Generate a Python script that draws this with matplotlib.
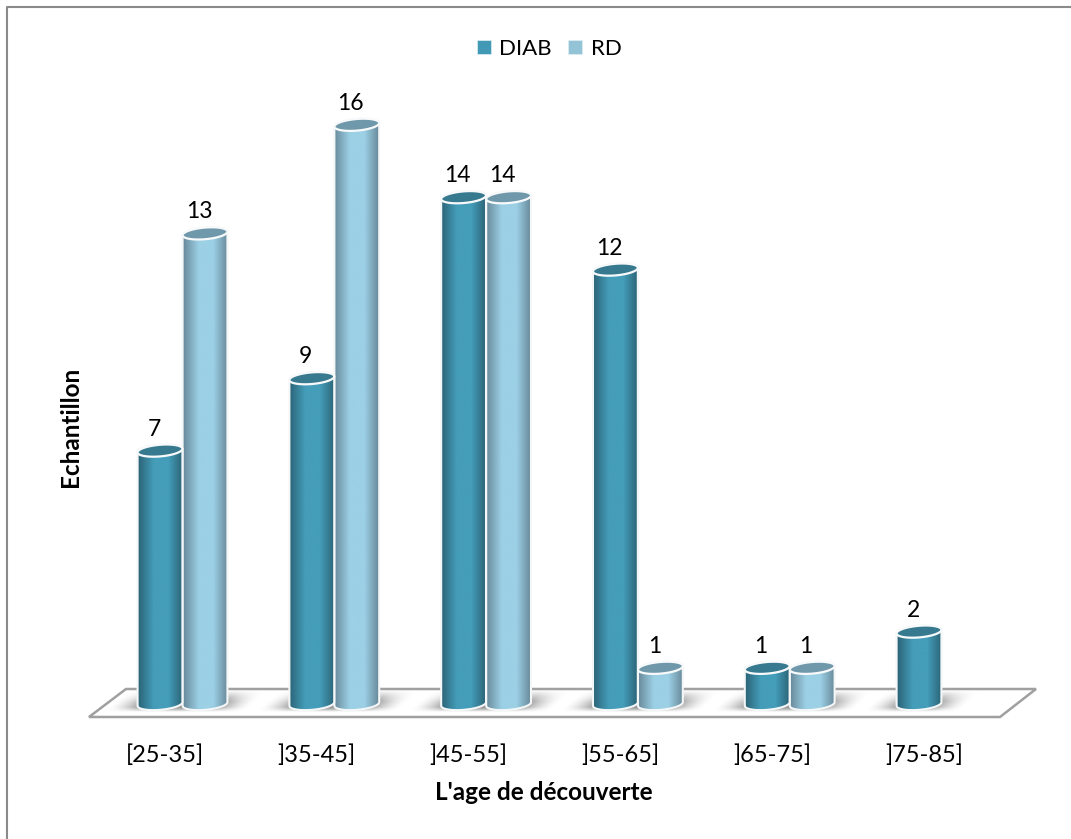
import numpy as np
import matplotlib
matplotlib.use("Agg")
import matplotlib.pyplot as plt
from matplotlib.colors import LinearSegmentedColormap
from matplotlib.patches import PathPatch, Polygon
from matplotlib.path import Path
from matplotlib.lines import Line2D

plt.rcParams["font.family"] = ["Lato", "DejaVu Sans"]

categories = ["[25-35]", "]35-45]", "]45-55]", "]55-65]", "]65-75]", "]75-85]"]
diab = [7, 9, 14, 12, 1, 2]
rd = [13, 16, 14, 1, 1, 0]
series_names = ["DIAB", "RD"]

W, H = 1071, 839
GROUP_PX = 151.8      # pixels between two age classes
UNIT_PX = 36.2        # pixels per patient
X0_PX, Y0_PX = 182.5, 704.0   # pixel position of class 0, count 0
AX_L, AX_R, AX_T, AX_B = 89, 1036, 70, 717

fig = plt.figure(figsize=(W / 100, H / 100), dpi=100, facecolor="white")
ax = fig.add_axes([AX_L / W, 1 - AX_B / H, (AX_R - AX_L) / W, (AX_B - AX_T) / H])
xlim = ((AX_L - X0_PX) / GROUP_PX, (AX_R - X0_PX) / GROUP_PX)
ylim = ((Y0_PX - AX_B) / UNIT_PX, (Y0_PX - AX_T) / UNIT_PX)

STYLES = {
    "DIAB": dict(edge="#2b6376", mid="#449db9", top="#37798f", legend="#4299b5"),
    "RD": dict(edge="#68899a", mid="#9cd0e5", top="#6f98aa", legend="#93c3d7"),
}
RX, RY = 22.5, 5.8     # ellipse half axes in pixels
TILT = np.deg2rad(5)


def ellipse(xc, yc, t):
    """Points of a tilted ellipse, centre in data units, radii in pixels."""
    dx = RX * np.cos(t) * np.cos(TILT) - RY * np.sin(t) * np.sin(TILT)
    dy = RX * np.cos(t) * np.sin(TILT) + RY * np.sin(t) * np.cos(TILT)
    return np.column_stack([xc + dx / GROUP_PX, yc + dy / UNIT_PX])


def floor_shadow(xc):
    """Soft skewed shadow that a cylinder casts on the floor."""
    px = np.arange(-64, 65)
    h = np.linspace(-8, 14, 45)      # height above the base centre, in pixels
    gx, gh = np.meshgrid(px, h)
    skew = gx - gh * 1.1
    across = np.clip((48 - np.abs(skew)) / 30, 0, 1)
    along = np.clip((14 - gh) / 12, 0, 1) * np.clip((gh + 8) / 5, 0, 1)
    img = np.zeros(across.shape + (4,))
    img[..., :3] = 0.48
    img[..., 3] = 0.72 * across ** 1.5 * along
    ext = [xc + px[0] / GROUP_PX, xc + px[-1] / GROUP_PX, h[0] / UNIT_PX, h[-1] / UNIT_PX]
    ax.imshow(img, extent=ext, origin="lower", aspect="auto", zorder=2,
              interpolation="bilinear", clip_on=False)


def cylinder(xc, value, style, z):
    t_front = np.linspace(np.pi, 2 * np.pi, 60)
    t_back = np.linspace(0, np.pi, 60)
    base = ellipse(xc, 0, t_front)
    head_back = ellipse(xc, value, t_back)
    outline = np.vstack([base, head_back, base[:1]])
    body = Path(outline, closed=False)

    cmap = LinearSegmentedColormap.from_list(
        "cyl", [(0, style["edge"]), (0.35, style["mid"]), (0.68, style["mid"]), (1, style["edge"])])
    gradient = np.linspace(0, 1, 128)[None, :]
    dx = RX / GROUP_PX
    im = ax.imshow(gradient, cmap=cmap, vmin=0, vmax=1, aspect="auto", zorder=z,
                   extent=[xc - dx, xc + dx, -0.5, value + 0.5], interpolation="bilinear")
    clip = PathPatch(body, transform=ax.transData, fc="none", ec="none")
    ax.add_patch(clip)
    im.set_clip_path(clip)
    ax.add_patch(PathPatch(body, fc="none", ec="#f4f7f8", lw=1.5, zorder=z + 0.1))
    top = ellipse(xc, value, np.linspace(0, 2 * np.pi, 120))
    ax.add_patch(Polygon(top, closed=True, fc=style["top"], ec="#f7f9fa", lw=1.6, zorder=z + 0.2))


# Floor of the 3D plot
floor_px = np.array([[89, 717], [1000, 717], [1036, 689], [126, 689]], dtype=float)
floor_xy = np.column_stack([(floor_px[:, 0] - X0_PX) / GROUP_PX, (Y0_PX - floor_px[:, 1]) / UNIT_PX])
ax.add_patch(Polygon(floor_xy, closed=True, fc="white", ec="#a0a0a0", lw=1.8, zorder=1, clip_on=False))

OFFSET = {"DIAB": -22.5 / GROUP_PX, "RD": 22.5 / GROUP_PX}
for name, values in zip(series_names, [diab, rd]):
    for i, v in enumerate(values):
        if v > 0:
            floor_shadow(i + OFFSET[name])

for i in range(len(categories)):
    # the left cylinder sits in front of the right one
    for name, values, z in (("RD", rd, 3 + i), ("DIAB", diab, 3.5 + i)):
        v = values[i]
        if v == 0:
            continue
        xc = i + OFFSET[name]
        cylinder(xc, v, STYLES[name], z)
        ax.text(xc - 6 / GROUP_PX, v + 21.5 / UNIT_PX, str(v), ha="center", va="center",
                fontsize=16.5, color="black", zorder=20)

ax.set_xlim(xlim)
ax.set_ylim(ylim)
ax.set_facecolor("none")
for s in ax.spines.values():
    s.set_visible(False)
ax.set_yticks([])
ax.set_xticks(np.arange(len(categories)) - 17.5 / GROUP_PX)
ax.set_xticklabels(categories, fontsize=17, color="black")
ax.tick_params(axis="x", length=0, pad=19.5)

ax.set_xlabel("L'age de découverte", fontsize=17.5, fontweight="bold")
ax.xaxis.set_label_coords((544 - AX_L) / (AX_R - AX_L), -(792 - AX_B) / (AX_B - AX_T))
ax.xaxis.label.set_va("center")
ax.set_ylabel("Echantillon", fontsize=17.5, fontweight="bold")
ax.yaxis.set_label_coords((70 - AX_L) / (AX_R - AX_L), (AX_B - 427) / (AX_B - AX_T))
ax.yaxis.label.set_va("center")

handles = [Line2D([], [], ls="", marker="s", ms=9.5, mfc=STYLES[n]["legend"], mec="#dfeef3", mew=0.5)
           for n in series_names]
leg = ax.legend(handles, series_names, loc="center", ncol=2, frameon=False, fontsize=16,
                bbox_to_anchor=((546 - AX_L) / (AX_R - AX_L), (AX_B - 49) / (AX_B - AX_T)),
                handletextpad=0.1, columnspacing=0.45, handlelength=1.2, borderpad=0)

# Outer chart frame: only the top and left edges are visible
fig.add_artist(Line2D([7 / W, 7 / W, 1], [0, 1 - 7 / H, 1 - 7 / H], transform=fig.transFigure,
                      color="#8a8a8a", lw=1.5))

fig.savefig("out.png", dpi=100)
